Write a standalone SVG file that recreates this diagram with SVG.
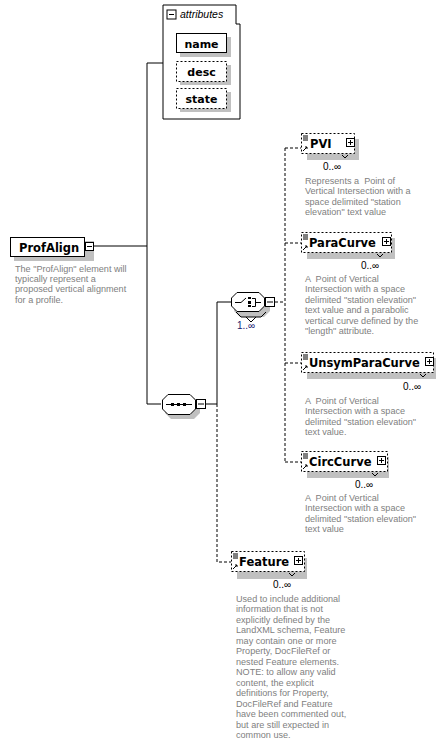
<svg xmlns="http://www.w3.org/2000/svg" width="448" height="753" viewBox="0 0 448 753">
<style>
.bg{fill:#fff}
.box{fill:#fff;stroke:#000;stroke-width:1}
.dbox{fill:#fff;stroke:#000;stroke-width:1;stroke-dasharray:2,2}
.sh{fill:#c0c0c0}
.ln{fill:none;stroke:#000;stroke-width:1}
.dl{fill:none;stroke:#000;stroke-width:1;stroke-dasharray:3,2}
.lbl{font-family:"DejaVu Sans",sans-serif;font-weight:bold;font-size:11.5px;fill:#000}
.ds{font-family:"Liberation Sans",sans-serif;font-size:9.1px;fill:#808080;white-space:pre}
.mul{font-family:"Liberation Sans",sans-serif;font-size:10px;fill:#000}
.att{font-family:"Liberation Sans",sans-serif;font-style:italic;font-size:10.5px;fill:#000}
</style>
<rect class="bg" x="0" y="0" width="448" height="753"/>

<g id="connectors">
  <polyline class="ln" points="94,246 147,246"/>
  <polyline class="ln" points="147,63 163,63"/>
  <polyline class="ln" points="147,63 147,404 161,404"/>
  <polyline class="ln" points="206,404 217,404"/>
  <polyline class="ln" points="217,302 217,404"/>
  <polyline class="ln" points="217,302 231,302"/>
  <polyline class="dl" points="217,404 217,562 231,562"/>
  <polyline class="dl" points="275,302 285,302"/>
  <polyline class="dl" points="285,148 285,462"/>
  <polyline class="dl" points="285,148 301,148"/>
  <polyline class="dl" points="285,243 301,243"/>
  <polyline class="dl" points="285,363 301,363"/>
  <polyline class="dl" points="285,462 301,462"/>
</g>

<g id="attributes">
  <polygon class="ln" points="163,5 236,5 236,24 240,24 240,119 163,119"/>
  <rect class="box" x="167" y="10" width="9" height="9"/>
  <line class="ln" x1="169" y1="14.5" x2="174" y2="14.5"/>
  <text class="att" x="180" y="18">attributes</text>
  <rect class="sh" x="180" y="37" width="51" height="20"/>
  <rect class="box" x="176.5" y="33.5" width="50" height="19"/>
  <text class="lbl" x="201.5" y="47.5" text-anchor="middle" style="font-size:11px">name</text>
  <rect class="sh" x="180" y="65" width="51" height="20"/>
  <rect class="dbox" x="176.5" y="61.5" width="50" height="20"/>
  <text class="lbl" x="201.5" y="76" text-anchor="middle" style="font-size:11px">desc</text>
  <rect class="sh" x="180" y="92" width="51" height="20"/>
  <rect class="dbox" x="176.5" y="88.5" width="50" height="20"/>
  <text class="lbl" x="201.5" y="103" text-anchor="middle" style="font-size:11px">state</text>
</g>

<g id="ProfAlign">
  <rect class="sh" x="14" y="241" width="80" height="20"/>
  <rect class="box" x="10.5" y="237.5" width="74" height="19"/>
  <text class="lbl" x="19" y="252">ProfAlign</text>
  <rect class="box" x="85.5" y="242.5" width="8" height="8"/>
  <line class="ln" x1="87" y1="246.5" x2="92" y2="246.5"/>
  <text class="ds" x="15" y="272">The "ProfAlign" element will</text>
  <text class="ds" x="15" y="282">typically represent a</text>
  <text class="ds" x="15" y="292">proposed vertical alignment</text>
  <text class="ds" x="15" y="303">for a profile.</text>
</g>

<g id="sequence">
  <polygon class="sh" points="171,398 194,398 200,404 200,413 194,419 171,419 165,413 165,404"/>
  <polygon class="box" points="168,394.5 190,394.5 195.5,400 195.5,409 190,414.5 168,414.5 162.5,409 162.5,400"/>
  <line class="ln" x1="166" y1="404.5" x2="192" y2="404.5"/>
  <rect x="171" y="403" width="3" height="3" fill="#000"/>
  <rect x="177" y="403" width="3" height="3" fill="#000"/>
  <rect x="183" y="403" width="3" height="3" fill="#000"/>
  <rect class="box" x="196.5" y="399.5" width="9" height="9"/>
  <line class="ln" x1="198" y1="404" x2="204" y2="404"/>
</g>

<g id="choice">
  <polygon class="sh" points="240,297 264,297 270,303 270,311 264,317 240,317 234,311 234,303"/>
  <polyline class="ln" points="236,312 241,317 261,317 266,312"/>
  <polyline class="ln" points="246,317 251,322 256,317"/>
  <polygon class="box" points="237,292.5 259,292.5 264.5,298 264.5,306 259,311.5 237,311.5 231.5,306 231.5,298"/>
  <polyline class="ln" points="235,302.5 241,302.5 246,298"/>
  <rect x="248" y="297" width="3" height="2" fill="#000"/>
  <rect x="248" y="301" width="3" height="3" fill="#000"/>
  <rect x="248" y="305" width="3" height="2" fill="#000"/>
  <polyline class="ln" points="252,298.5 255.5,298.5 255.5,306.5 252,306.5"/>
  <line class="ln" x1="255.5" y1="302.5" x2="261" y2="302.5"/>
  <rect class="box" x="265.5" y="297.5" width="9" height="9"/>
  <line class="ln" x1="267" y1="302" x2="273" y2="302"/>
  <text class="mul" x="237" y="329" style="fill:#202070">1..∞</text>
</g>

<g id="PVI">
  <rect class="sh" x="307" y="139" width="52" height="21"/>
  <rect class="dbox" x="301.5" y="133.5" width="53" height="20"/>
  <path class="ln" d="M303,136h5M303,138h5M303,140h5M303,151l4,-4M305,147h2v2" stroke-width="0.8"/>
  <text class="lbl" x="310" y="148">PVI</text>
  <rect class="box" x="346.5" y="138.5" width="8" height="8"/>
  <path class="ln" d="M348,142.5h5M350.5,140v5"/>
  <polyline class="ln" points="342,155 345,158 348,155" stroke-width="0.8"/>
  <text class="mul" x="323" y="170">0..∞</text>
  <text class="ds" x="305" y="184">Represents a  Point of</text>
  <text class="ds" x="305" y="194">Vertical Intersection with a</text>
  <text class="ds" x="305" y="205">space delimited "station</text>
  <text class="ds" x="305" y="215">elevation" text value</text>
</g>

<g id="ParaCurve">
  <rect class="sh" x="307" y="238" width="88" height="21"/>
  <rect class="dbox" x="301.5" y="232.5" width="90" height="20"/>
  <path class="ln" d="M303,235h5M303,237h5M303,239h5M303,250l4,-4M305,246h2v2" stroke-width="0.8"/>
  <text class="lbl" x="309" y="247">ParaCurve</text>
  <rect class="box" x="382.5" y="237.5" width="8" height="8"/>
  <path class="ln" d="M384,241.5h5M386.5,239v5"/>
  <polyline class="ln" points="377,254 380,257 383,254" stroke-width="0.8"/>
  <text class="mul" x="361" y="269">0..∞</text>
  <text class="ds" x="305" y="282">A  Point of Vertical</text>
  <text class="ds" x="305" y="292">Intersection with a space</text>
  <text class="ds" x="305" y="303">delimited "station elevation"</text>
  <text class="ds" x="305" y="313">text value and a parabolic</text>
  <text class="ds" x="305" y="324">vertical curve defined by the</text>
  <text class="ds" x="305" y="334">"length" attribute.</text>
</g>

<g id="UnsymParaCurve">
  <rect class="sh" x="307" y="358" width="129" height="21"/>
  <rect class="dbox" x="301.5" y="352.5" width="132" height="20"/>
  <path class="ln" d="M303,355h5M303,357h5M303,359h5M303,370l4,-4M305,366h2v2" stroke-width="0.8"/>
  <text class="lbl" x="309" y="367">UnsymParaCurve</text>
  <rect class="box" x="425.5" y="357.5" width="8" height="8"/>
  <path class="ln" d="M427,361.5h5M429.5,359v5"/>
  <polyline class="ln" points="420,374 423,377 426,374" stroke-width="0.8"/>
  <text class="mul" x="403" y="390">0..∞</text>
  <text class="ds" x="305" y="404">A  Point of Vertical</text>
  <text class="ds" x="305" y="414">Intersection with a space</text>
  <text class="ds" x="305" y="425">delimited "station elevation"</text>
  <text class="ds" x="305" y="435">text value.</text>
</g>

<g id="CircCurve">
  <rect class="sh" x="307" y="457" width="82" height="21"/>
  <rect class="dbox" x="301.5" y="451.5" width="86" height="20"/>
  <path class="ln" d="M303,454h5M303,456h5M303,458h5M303,469l4,-4M305,465h2v2" stroke-width="0.8"/>
  <text class="lbl" x="309" y="466">CircCurve</text>
  <rect class="box" x="377.5" y="456.5" width="8" height="8"/>
  <path class="ln" d="M379,460.5h5M381.5,458v5"/>
  <polyline class="ln" points="372,473 375,476 378,473" stroke-width="0.8"/>
  <text class="mul" x="355" y="488">0..∞</text>
  <text class="ds" x="305" y="501">A  Point of Vertical</text>
  <text class="ds" x="305" y="511">Intersection with a space</text>
  <text class="ds" x="305" y="522">delimited "station elevation"</text>
  <text class="ds" x="305" y="532">text value</text>
</g>

<g id="Feature">
  <rect class="sh" x="237" y="558" width="70" height="21"/>
  <rect class="dbox" x="231.5" y="551.5" width="73" height="20"/>
  <path class="ln" d="M233,554h5M233,556h5M233,558h5M233,569l4,-4M235,565h2v2" stroke-width="0.8"/>
  <text class="lbl" x="239" y="566">Feature</text>
  <rect class="box" x="294.5" y="556.5" width="8" height="8"/>
  <path class="ln" d="M296,560.5h5M298.5,558v5"/>
  <polyline class="ln" points="289,573 292,576 295,573" stroke-width="0.8"/>
  <text class="mul" x="273" y="588">0..∞</text>
  <text class="ds" x="236" y="602">Used to include additional</text>
  <text class="ds" x="236" y="612">information that is not</text>
  <text class="ds" x="236" y="623">explicitly defined by the</text>
  <text class="ds" x="236" y="633">LandXML schema, Feature</text>
  <text class="ds" x="236" y="644">may contain one or more</text>
  <text class="ds" x="236" y="654">Property, DocFileRef or</text>
  <text class="ds" x="236" y="665">nested Feature elements.</text>
  <text class="ds" x="236" y="675">NOTE: to allow any valid</text>
  <text class="ds" x="236" y="686">content, the explicit</text>
  <text class="ds" x="236" y="696">definitions for Property,</text>
  <text class="ds" x="236" y="707">DocFileRef and Feature</text>
  <text class="ds" x="236" y="717">have been commented out,</text>
  <text class="ds" x="236" y="728">but are still expected in</text>
  <text class="ds" x="236" y="738">common use.</text>
</g>
</svg>
